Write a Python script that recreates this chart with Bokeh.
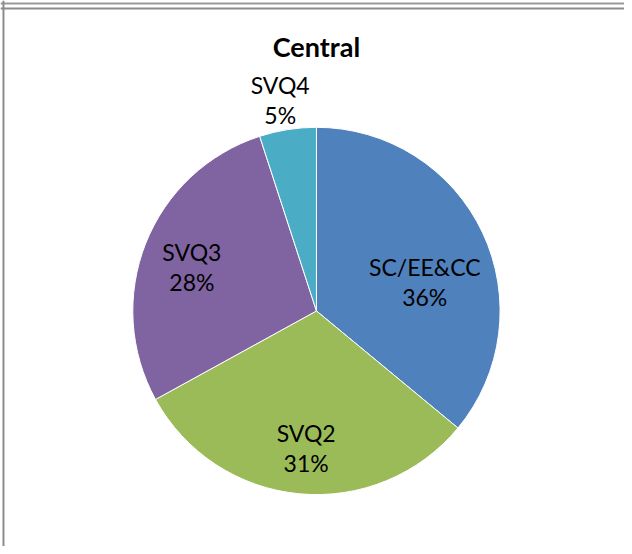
import math
from bokeh.plotting import figure
from bokeh.models import Range1d, ColumnDataSource, Span
from bokeh.core.properties import value
from bokeh.embed import file_html
from bokeh.resources import INLINE

# ---- data ----
title_text = "Central"
categories = ["SC/EE&CC", "SVQ2", "SVQ3", "SVQ4"]
values = [36, 31, 28, 5]
colors = ["#4F81BD", "#9BBB59", "#8064A2", "#4BACC6"]
# label placement: radial fraction of radius, and angular fraction within slice
label_radius = [0.61, 0.75, 0.72, 1.17]
label_angle = [0.58, 0.49, 0.48, 0.46]

# ---- geometry (data units ~ reference pixels) ----
R = 186
W, H = 624, 546
REF_W, REF_H = 632, 554
cx_ref, cy_ref = 320, 315  # pie centre in reference pixels
x_range = Range1d(-cx_ref, REF_W - cx_ref)
y_range = Range1d(cy_ref - REF_H, cy_ref)

total = float(sum(values))
starts, ends, lx, ly, pct = [], [], [], [], []
cum = 0.0
for v, rf, af in zip(values, label_radius, label_angle):
    f0 = cum / total
    cum += v
    f1 = cum / total
    starts.append(math.pi / 2 - f0 * 2 * math.pi)
    ends.append(math.pi / 2 - f1 * 2 * math.pi)
    a = (f0 + (f1 - f0) * af) * 2 * math.pi  # clockwise from top
    lx.append(R * rf * math.sin(a))
    ly.append(R * rf * math.cos(a))
    pct.append(f"{v}%")

src = ColumnDataSource(dict(cat=categories, start=starts, end=ends, color=colors,
                            lx=lx, ly=ly, pct=pct))

p = figure(width=W, height=H, x_range=x_range, y_range=y_range,
           output_backend="svg", toolbar_location=None, min_border=0)
p.axis.visible = False
p.grid.visible = False
p.outline_line_color = None
p.background_fill_color = "white"

p.wedge(x=0, y=0, radius=R, start_angle="start", end_angle="end", direction="clock",
        fill_color="color", line_color="white", line_width=1, source=src)

font = value("Lato")
p.text(x="lx", y="ly", text="cat", source=src, text_font=font, text_font_size="23px",
       text_color="#000000", text_align="center", text_baseline="middle", y_offset=-15)
p.text(x="lx", y="ly", text="pct", source=src, text_font=font, text_font_size="23px",
       text_color="#000000", text_align="center", text_baseline="middle", y_offset=15)

p.text(x=[0], y=[cy_ref - 47], text=[title_text], text_font=font, text_font_size="27px",
       text_font_style="bold", text_color="#000000", text_align="center",
       text_baseline="middle")

# window / chart-area borders
p.add_layout(Span(location=cy_ref - 3, dimension="width", line_color="#9a9a9a", line_width=2))
p.add_layout(Span(location=cy_ref - 8, dimension="width", line_color="#8c8c8c", line_width=2))
p.add_layout(Span(location=-cx_ref + 3, dimension="height", line_color="#8c8c8c", line_width=2))

open("out.html", "w").write(file_html(p, INLINE))
